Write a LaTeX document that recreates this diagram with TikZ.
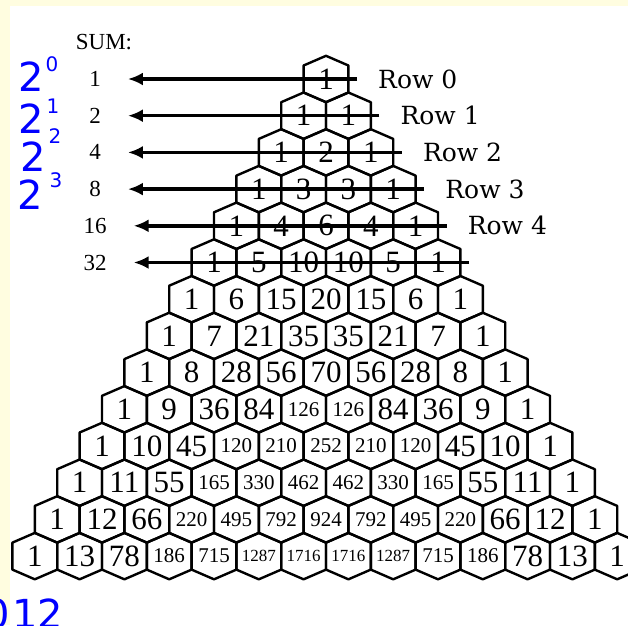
\documentclass[tikz,border=0pt]{standalone}
\usepackage{fontspec}
\setmainfont{Liberation Serif}
\newfontfamily\rowfont{DejaVu Serif}
\newfontfamily\handfont{DejaVu Sans}
\usetikzlibrary{positioning,arrows.meta}
\definecolor{pageyellow}{RGB}{255,253,224}
\definecolor{penblue}{RGB}{0,0,255}
\newcommand{\numsize}[1]{\ifnum#1>999 \fontsize{17}{17}\selectfont\else\ifnum#1>99 \fontsize{21}{21}\selectfont\else\fontsize{31}{31}\selectfont\fi\fi}

\begin{document}
\begin{tikzpicture}[x=1pt,y=-1pt,
  hexline/.style={line width=2.4pt,line join=round},
  cellnum/.style={inner sep=0pt},
  sumnum/.style={inner sep=0pt,font=\fontsize{23}{23}\selectfont},
  rowlab/.style={inner sep=0pt,font=\rowfont\fontsize{25}{25}\selectfont},
  sumarrow/.style={line width=3.5pt,-{Latex[length=15pt,width=13pt]},shorten >=27pt},
  hand/.style={inner sep=0pt,text=penblue,font=\handfont\fontsize{40}{40}\selectfont},
  handsup/.style={inner sep=0pt,text=penblue,font=\handfont\fontsize{20}{20}\selectfont}]
\useasboundingbox (0,0) rectangle (628,625);
\clip (0,0) rectangle (628,625);
\fill[pageyellow] (0,0) rectangle (628,625);
\fill[white] (10,6) rectangle (628,625);

\foreach \r/\vals in {0/{1},1/{1,1},2/{1,2,1},3/{1,3,3,1},4/{1,4,6,4,1},
  5/{1,5,10,10,5,1},6/{1,6,15,20,15,6,1},7/{1,7,21,35,35,21,7,1},
  8/{1,8,28,56,70,56,28,8,1},9/{1,9,36,84,126,126,84,36,9,1},
  10/{1,10,45,120,210,252,210,120,45,10,1},
  11/{1,11,55,165,330,462,462,330,165,55,11,1},
  12/{1,12,66,220,495,792,924,792,495,220,66,12,1},
  13/{1,13,78,186,715,1287,1716,1716,1287,715,186,78,13,1}}{
  \foreach \v [count=\k from 0] in \vals {
    \pgfmathsetmacro\cx{326+44.8*(\k-\r/2)}
    \pgfmathsetmacro\cy{79+36.7*\r}
    \draw[hexline] (\cx,\cy) ++(0,-23.2) -- ++(22.4,9.7) -- ++(0,27) -- ++(-22.4,9.7)
      -- ++(-22.4,-9.7) -- ++(0,-27) -- cycle;
    \node[cellnum] (n-\r-\k) at (\cx,\cy) {\numsize{\v}\v};
  }
}

\node[sumnum] (sumhead) at (104,42) {SUM:};
\foreach \r/\s in {0/1,1/2,2/4,3/8,4/16,5/32}{
  \pgfmathsetmacro\cy{79+36.7*\r}
  \pgfmathsetmacro\ex{326+22.4*\r+31}
  \coordinate (e\r) at (\ex,\cy);
  \node[sumnum] (s\r) at (95,\cy) {\s};
  \draw[sumarrow] (e\r) -- (s\r);
}
\foreach \r in {0,...,4}
  \node[rowlab,right=21pt of e\r] (lab\r) {Row \r};

\node[hand] (p0) at (31,77) {2};
\node[handsup] (q0) at (52,64) {0};
\node[hand] (p1) at (31,119) {2};
\node[handsup] (q1) at (53,106) {1};
\node[hand] (p2) at (33,157) {2};
\node[handsup] (q2) at (55,136) {2};
\node[hand] (p3) at (30,195) {2};
\node[handsup] (q3) at (56,180) {3};
\node[hand] (b0) at (-3,614) {0};
\node[hand] (b1) at (38,614) {12};
\end{tikzpicture}
\end{document}
